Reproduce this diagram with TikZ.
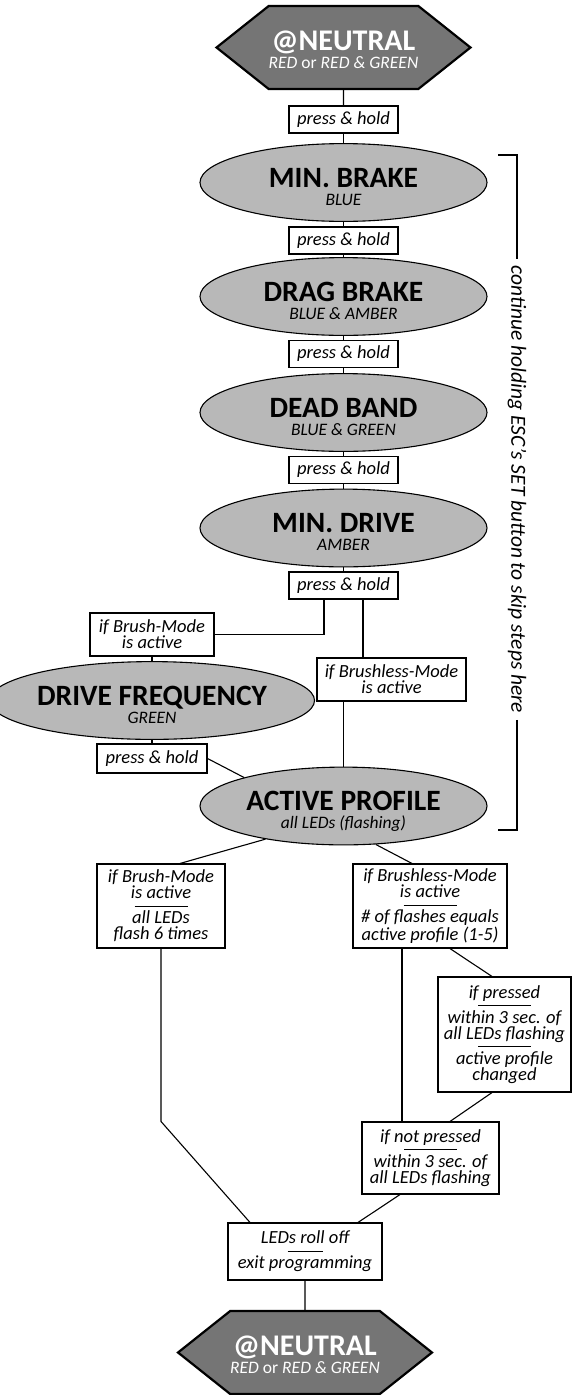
\documentclass[tikz,border=0pt]{standalone}
\usepackage{fontspec}
\setmainfont{Carlito}
\usetikzlibrary{shapes.geometric,shapes.symbols}

\definecolor{hexgray}{gray}{0.46}
\definecolor{modegray}{gray}{0.72}

\newcommand{\subfont}{\fontsize{17.5}{18}\selectfont\mdseries\itshape}
\newcommand{\divider}[1][53pt]{\\[-8.5pt]\rule{#1}{0.6pt}\\[1.5pt]}
\newcommand{\modetext}[2]{\rule{0pt}{32pt}#1\\{\subfont #2\rule[-5pt]{0pt}{5pt}}}
\newcommand{\neutraltext}{\rule{0pt}{28pt}@NEUTRAL\\{\fontsize{17.5}{18}\selectfont\mdseries\textit{RED} or \textit{RED \& GREEN}\rule[-5pt]{0pt}{5pt}}}

\begin{document}
\begin{tikzpicture}[x=1pt,y=-1pt,line width=1.1pt,
    neutral/.style={shape=signal,signal to=west and east,signal pointer angle=77,draw,line width=2.2pt,fill=hexgray,text=white,
      minimum width=208,minimum height=83,inner sep=0pt,align=center,font=\fontsize{30}{18}\selectfont\bfseries},
    mode/.style={ellipse,draw,fill=modegray,minimum width=287,minimum height=63,inner sep=0pt,align=center,
      font=\fontsize{29.5}{18}\selectfont\bfseries},
    box/.style={draw,fill=white,align=center,inner sep=2pt,font=\fontsize{18.5}{16}\selectfont\itshape},
    hold/.style={box,minimum width=109,minimum height=27}]
  \useasboundingbox (0,0) rectangle (574,1395);

  % main column
  \node[neutral] (top) at (343.5,47.5) {\neutraltext};
  \foreach \y [count=\i] in {119.5,240.5,354,470,585.5}
    \node[hold] (hold\i) at (343.5,\y) {press \& hold};
  \foreach \name/\y/\title/\leds in {minbrake/182.5/MIN. BRAKE/BLUE,dragbrake/296.5/DRAG BRAKE/BLUE \& AMBER,
      deadband/412.5/DEAD BAND/BLUE \& GREEN,mindrive/528/MIN. DRIVE/AMBER}
    \node[mode] (\name) at (343.5,\y) {\modetext{\title}{\leds}};
  \foreach \a/\b in {top/hold1,hold1/minbrake,minbrake/hold2,hold2/dragbrake,dragbrake/hold3,
      hold3/deadband,deadband/hold4,hold4/mindrive,mindrive/hold5}
    \draw (\a) -- (\b);

  % brush / brushless split
  \node[box,minimum width=124,minimum height=43] (brushtop) at (152,634.5) {if Brush-Mode\\is active};
  \node[box,minimum width=149,minimum height=43] (brushlesstop) at (391.5,679.5) {if Brushless-Mode\\is active};
  \node[mode] (drivefreq) at (152,700.5) {\modetext{DRIVE FREQUENCY}{GREEN}};
  \node[hold,minimum width=110,minimum height=29] (hold6) at (152,758.5) {press \& hold};
  \node[mode] (active) at (343.5,806) {\modetext{ACTIVE PROFILE}{all LEDs (flashing)}};

  \draw ([xshift=-19.5]hold5.south) |- (brushtop.east);
  \draw ([xshift=19.5]hold5.south) -- ([xshift=19.5]hold5.south |- brushlesstop.north);
  \draw (brushtop) -- (drivefreq) -- (hold6);
  \draw (hold6.east) -- (active.164);
  \draw (brushlesstop.south -| active.north) -- (active.north);

  % after active profile
  \node[box,minimum width=128,minimum height=84] (brushflash) at (161,906)
    {if Brush-Mode\\is active\divider all LEDs\\flash 6 times};
  \node[box,minimum width=154,minimum height=84] (brushlessflash) at (430,906)
    {if Brushless-Mode\\is active\divider \# of flashes equals\\active profile (1-5)};
  \node[box,minimum width=133,minimum height=115] (pressed) at (504.5,1034.5)
    {if pressed\divider within 3 sec. of\\all LEDs flashing\divider active profile\\changed};
  \node[box,minimum width=137,minimum height=72] (notpressed) at (430.5,1158)
    {if not pressed\divider within 3 sec. of\\all LEDs flashing};
  \node[box,minimum width=154,minimum height=57] (rolloff) at (305,1251.5)
    {LEDs roll off\divider[35pt] exit programming};
  \node[neutral] (bottom) at (305,1352.5) {\neutraltext};

  \draw (active.203) -- ([xshift=19]brushflash.north);
  \draw (active.310) -- ([xshift=-18]brushlessflash.north);
  \draw (brushflash.south) -- (brushflash.south |- notpressed.north) -- ([xshift=-55]rolloff.north);
  \draw ([xshift=-28]brushlessflash.south) -- ([xshift=-28]brushlessflash.south |- notpressed.north);
  \draw ([xshift=20]brushlessflash.south) -- ([xshift=-12.5]pressed.north);
  \draw ([xshift=-12.5]pressed.south) -- ([xshift=19.5]notpressed.north);
  \draw ([xshift=-30.5]notpressed.south) -- ([xshift=53]rolloff.north);
  \draw (rolloff) -- (bottom);

  % skip bracket
  \node[box,draw=none,rotate=-90,inner xsep=6pt,font=\fontsize{21.5}{16}\selectfont\itshape] (skip) at (517,489.5)
    {continue holding ESC’s SET button to skip steps here};
  \coordinate (skiptop) at (498,155);
  \coordinate (skipbot) at (498,830);
  \draw (skiptop) -| (skip.west);
  \draw (skip.east) |- (skipbot);
\end{tikzpicture}
\end{document}
